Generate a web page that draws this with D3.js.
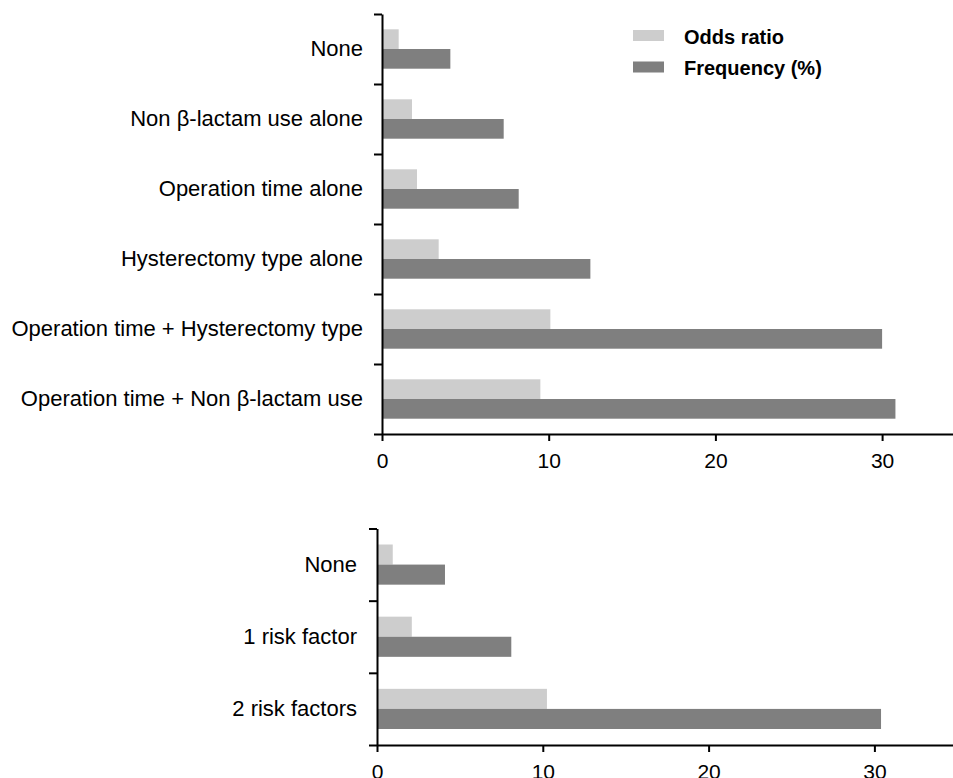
<!DOCTYPE html>
<html>
<head>
<meta charset="utf-8">
<script src="https://cdn.jsdelivr.net/npm/d3@7"></script>
<style>
  body { margin: 0; background: #fff; }
  svg { display: block; font-family: "Liberation Sans", Arial, sans-serif; }
  .axis path, .axis line { stroke: #000; stroke-width: 2; }
  .axis text { fill: #000; font-size: 21px; }
  .labels text { font-size: 22px; }
</style>
</head>
<body>
<svg id="chart" width="953" height="778"></svg>
<script>
// Data
const topCategories = [
  "None",
  "Non β-lactam use alone",
  "Operation time alone",
  "Hysterectomy type alone",
  "Operation time + Hysterectomy type",
  "Operation time + Non β-lactam use",
];
const topOdds = [1.0, 1.8, 2.1, 3.4, 10.1, 9.5];
const topFreq = [4.1, 7.3, 8.2, 12.5, 30.0, 30.8];

const bottomCategories = ["None", "1 risk factor", "2 risk factors"];
const bottomOdds = [0.95, 2.1, 10.25];
const bottomFreq = [4.1, 8.1, 30.4];

const xTicks = [0, 10, 20, 30];
const seriesNames = ["Odds ratio", "Frequency (%)"];
const seriesColors = ["#cdcdcd", "#7f7f7f"];

const svg = d3.select("#chart");

//Draw one horizontal grouped bar panel
const drawPanel = (cfg) => {
  const rows = cfg.categories.map((c, i) => ({
    name: c,
    values: [cfg.odds[i], cfg.freq[i]],
  }));

  const g = svg.append("g").attr("transform", `translate(${cfg.left}, ${cfg.top})`);

  //Scales
  const x = d3.scaleLinear().domain([0, 35]).range([0, cfg.unit * 35]);
  const y = d3.scaleBand().domain(cfg.categories).range([0, cfg.height]);
  const ySub = d3
    .scaleBand()
    .domain(seriesNames)
    .range([cfg.barPad, y.bandwidth() - cfg.barPad]);
  const edges = d3
    .scaleLinear()
    .domain([0, cfg.categories.length])
    .range([0, cfg.height]);

  //Bars
  const groups = g
    .selectAll("g.row")
    .data(rows)
    .enter()
    .append("g")
    .attr("class", "row")
    .attr("transform", (d) => `translate(0, ${y(d.name)})`);

  groups
    .selectAll("rect")
    .data((d) => d.values.map((v, i) => ({ key: seriesNames[i], value: v, i })))
    .enter()
    .append("rect")
    .attr("x", x(0))
    .attr("y", (d) => ySub(d.key))
    .attr("width", (d) => x(d.value) - x(0))
    .attr("height", ySub.bandwidth())
    .attr("fill", (d) => seriesColors[d.i]);

  //Y axis with ticks between categories
  g.append("g")
    .attr("class", "axis")
    .call(
      d3
        .axisLeft(edges)
        .tickValues(d3.range(cfg.categories.length + 1))
        .tickSize(8)
        .tickSizeOuter(0)
        .tickFormat("")
    );

  //Category labels
  const labels = g
    .append("g")
    .attr("class", "axis labels")
    .call(d3.axisLeft(y).tickSize(0).tickPadding(cfg.labelGap));
  labels.select(".domain").remove();

  //X axis
  g.append("g")
    .attr("class", "axis")
    .attr("transform", `translate(0, ${cfg.height})`)
    .call(
      d3
        .axisBottom(x)
        .tickValues(xTicks)
        .tickSize(7)
        .tickSizeOuter(0)
        .tickPadding(12)
    );
};

drawPanel({
  categories: topCategories,
  odds: topOdds,
  freq: topFreq,
  left: 382,
  top: 14,
  height: 420,
  unit: 16.67,
  barPad: 15.3,
  labelGap: 19,
});

drawPanel({
  categories: bottomCategories,
  odds: bottomOdds,
  freq: bottomFreq,
  left: 377,
  top: 528.5,
  height: 216.5,
  unit: 16.58,
  barPad: 16,
  labelGap: 20,
});

//Legend
const legend = svg
  .append("g")
  .attr("transform", "translate(633, 30)")
  .selectAll("g")
  .data(seriesNames)
  .enter()
  .append("g")
  .attr("transform", (d, i) => `translate(0, ${i * 31.5})`);

legend
  .append("rect")
  .attr("width", 31)
  .attr("height", 11)
  .attr("fill", (d, i) => seriesColors[i]);

legend
  .append("text")
  .attr("x", 51)
  .attr("y", 13.5)
  .attr("font-size", 20)
  .attr("font-weight", "bold")
  .attr("fill", "#000")
  .text((d) => d);
</script>
</body>
</html>
